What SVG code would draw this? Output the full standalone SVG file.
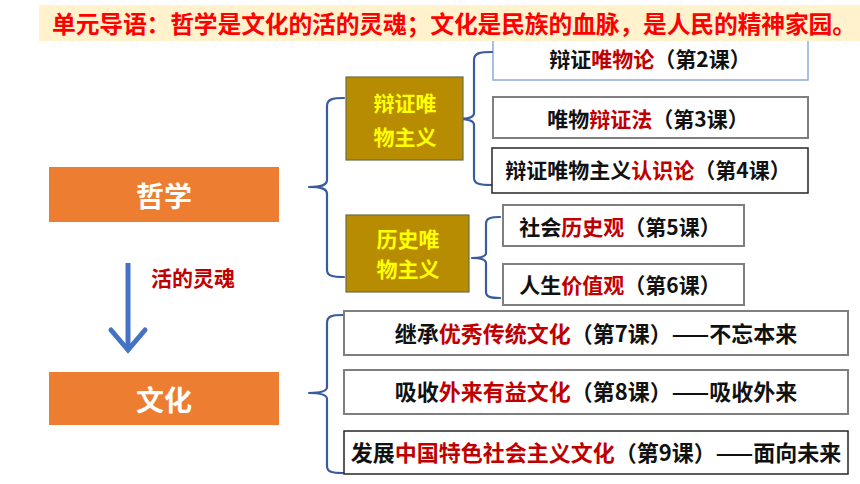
<svg xmlns="http://www.w3.org/2000/svg" width="860" height="484" viewBox="0 0 860 484">
<style>
text{font-family:"Noto Sans CJK SC","Noto Sans",sans-serif;font-weight:bold}
.t{font-size:21px;fill:#111;text-anchor:middle}
.c{font-size:22px;fill:#111;text-anchor:middle}
.r{fill:#C00000}
.br{fill:none;stroke:#3A5B9E;stroke-width:2.2;stroke-linecap:round;stroke-linejoin:round}
.box{fill:#fff}
.g{stroke:#7F7F7F;stroke-width:2}
.k{stroke:#262626;stroke-width:1.5}
.gold{fill:#B88C00;stroke:#6b6b4a;stroke-width:1.2}
.gt{font-size:21px;fill:#FFFF00;text-anchor:middle}
.org{fill:#ED7D31}
.ot{font-size:28px;fill:#fff;text-anchor:middle}
</style>
<rect width="860" height="484" fill="#fff"/>
<g id="lesson2">
<rect class="box" x="493" y="36" width="315" height="44" stroke="#8FAADC" stroke-width="1.5"/>
<text class="t" x="650" y="67">辩证<tspan class="r">唯物论</tspan>（第2课）</text>
</g>
<g id="banner">
<rect x="39" y="5" width="821" height="36" fill="#FFF2CC"/>
<text x="52" y="33" font-size="23.8" fill="#FF0000" textLength="804" lengthAdjust="spacing">单元导语：哲学是文化的活的灵魂；文化是民族的血脉，是人民的精神家园。</text>
</g>
<g id="connectors">
<path class="br" d="M344,98 C333,98 327,99 327,106 L327,180 C327,185 322,187 309,187 C322,187 327,189 327,194 L327,270 C327,276 333,277 344,277"/>
<path class="br" d="M492,52 C480,52 474,53 474,60 L474,113 C474,117 470,119 457,119 C470,119 474,121 474,125 L474,178 C474,184 480,185 492,185"/>
<path class="br" d="M500,217 C491,217 486,218 486,224 L486,253 C486,256 482,258 472,258 C482,258 486,260 486,263 L486,292 C486,297 491,298 500,298"/>
<path class="br" d="M343,315 C332,315 327,316 327,323 L327,387 C327,391 322,393 309,393 C322,393 327,395 327,399 L327,466 C327,472 332,473 343,473"/>
<line x1="128" y1="263" x2="128" y2="348" stroke="#4472C4" stroke-width="5"/>
<polyline points="111,330 128,350 145,330" fill="none" stroke="#4472C4" stroke-width="5" stroke-linecap="round" stroke-linejoin="miter"/>
<text x="151" y="286" font-size="21" fill="#C00000">活的灵魂</text>
</g>
<g id="zhexue">
<rect class="org" x="49" y="167" width="230" height="55"/>
<text class="ot" x="164" y="207">哲学</text>
</g>
<g id="wenhua">
<rect class="org" x="49" y="372" width="230" height="53"/>
<text class="ot" x="164" y="411">文化</text>
</g>
<g id="bianzheng">
<rect class="gold" x="346" y="77" width="117" height="83"/>
<text class="gt" x="405" y="111">辩证唯</text>
<text class="gt" x="405" y="145">物主义</text>
</g>
<g id="lishi">
<rect class="gold" x="346" y="215" width="123" height="77"/>
<text class="gt" x="408" y="247">历史唯</text>
<text class="gt" x="408" y="277">物主义</text>
</g>
<g id="lesson3">
<rect class="box g" x="493" y="97" width="315" height="41"/>
<text class="t" x="648" y="127">唯物<tspan class="r">辩证法</tspan>（第3课）</text>
</g>
<g id="lesson4">
<rect class="box k" x="492" y="148" width="316" height="45"/>
<text class="t" x="648" y="178">辩证唯物主义<tspan class="r">认识论</tspan>（第4课）</text>
</g>
<g id="lesson5">
<rect class="box g" x="503" y="205" width="241" height="41"/>
<text class="t" x="620" y="235">社会<tspan class="r">历史观</tspan>（第5课）</text>
</g>
<g id="lesson6">
<rect class="box g" x="503" y="264" width="241" height="41"/>
<text class="t" x="620" y="293">人生<tspan class="r">价值观</tspan>（第6课）</text>
</g>
<g id="lesson7">
<rect class="box g" x="344" y="311" width="504" height="44"/>
<text class="c" x="596" y="342">继承<tspan class="r">优秀传统文化</tspan>（第7课）——不忘本来</text>
</g>
<g id="lesson8">
<rect class="box g" x="344" y="370" width="504" height="44"/>
<text class="c" x="596" y="400">吸收<tspan class="r">外来有益文化</tspan>（第8课）——吸收外来</text>
</g>
<g id="lesson9">
<rect class="box k" x="344" y="431" width="504" height="43"/>
<text class="c" x="596" y="461">发展<tspan class="r">中国特色社会主义文化</tspan>（第9课）——面向未来</text>
</g>
</svg>
